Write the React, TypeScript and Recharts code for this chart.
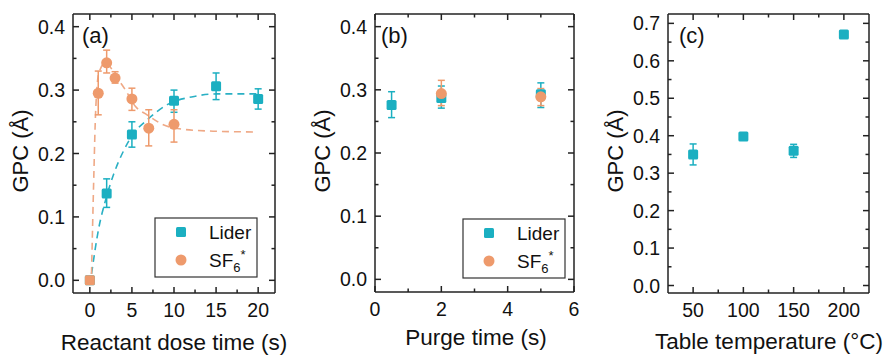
import React from 'react';
import { ComposedChart, Scatter, Line, XAxis, YAxis, ErrorBar } from 'recharts';

// panel (a): reactant dose time
const liderAX = [0, 2, 5, 10, 15, 20];
const liderAY = [0, 0.137, 0.23, 0.283, 0.306, 0.286];
const liderALo = [0, 0.115, 0.21, 0.265, 0.285, 0.27];
const liderAHi = [0, 0.16, 0.25, 0.3, 0.327, 0.302];

const sf6AX = [0, 1, 2, 3, 5, 7, 10];
const sf6AY = [0, 0.295, 0.343, 0.319, 0.286, 0.24, 0.246];
const sf6ALo = [0, 0.261, 0.327, 0.311, 0.268, 0.212, 0.218];
const sf6AHi = [0, 0.33, 0.363, 0.329, 0.303, 0.269, 0.269];

// dashed guide curves
const fitLiderX = [0.2, 1.07, 1.86, 2.85, 4.04, 5.23, 6.8, 9.2, 12.4, 15.1, 20];
const fitLiderY = [0.01, 0.083, 0.126, 0.168, 0.205, 0.232, 0.253, 0.277, 0.29, 0.294, 0.294];
const fitSf6X = [0.2, 0.48, 0.68, 1.07, 1.86, 3.25, 4.24, 5.43, 6.8, 8.8, 11.2, 15.1, 19.5];
const fitSf6Y = [0.01, 0.168, 0.263, 0.327, 0.343, 0.319, 0.3, 0.274, 0.261, 0.245, 0.238, 0.235, 0.234];

// panel (b): purge time
const liderBX = [0.5, 2, 5];
const liderBY = [0.276, 0.287, 0.293];
const liderBLo = [0.256, 0.271, 0.272];
const liderBHi = [0.297, 0.306, 0.311];
const sf6BX = [2, 5];
const sf6BY = [0.294, 0.289];
const sf6BLo = [0.275, 0.275];
const sf6BHi = [0.315, 0.302];

// panel (c): table temperature
const liderCX = [50, 100, 150, 200];
const liderCY = [0.35, 0.398, 0.36, 0.67];
const liderCLo = [0.322, 0.392, 0.342, 0.666];
const liderCHi = [0.378, 0.404, 0.377, 0.675];

const ticksA = [0, 2.5, 5, 7.5, 10, 12.5, 15, 17.5, 20];
const ticksB = [0, 1, 2, 3, 4, 5, 6];
const ticksC = [50, 75, 100, 125, 150, 175, 200];
const gpcTicks = [0, 0.05, 0.1, 0.15, 0.2, 0.25, 0.3, 0.35, 0.4];
const gpcTicksC = [0, 0.05, 0.1, 0.15, 0.2, 0.25, 0.3, 0.35, 0.4, 0.45, 0.5, 0.55, 0.6, 0.65, 0.7];

const TEAL = '#1bafc1';
const ORANGE = '#ee9a6c';
const TEAL_FIT = '#2ab0c4';
const ORANGE_FIT = '#efa986';
const FRAME = '#222';
const FONT = '"Liberation Sans", Arial, sans-serif';

const pts = (xs: number[], ys: number[], lo?: number[], hi?: number[]) =>
  xs.map((x, i) => ({
    x,
    y: ys[i],
    err: lo && hi ? [ys[i] - lo[i], hi[i] - ys[i]] : undefined,
  }));

const near = (a: number, b: number) => Math.abs(a - b) < 1e-6;

const makeTick =
  (side: 'bottom' | 'top' | 'left' | 'right', majors: number[], fmt: (v: number) => string) =>
  (props: any) => {
    const { x, y, payload } = props;
    const v = payload.value;
    const major = majors.some((m) => near(m, v));
    const len = major ? 6 : 3.5;
    const line = { stroke: FRAME, strokeWidth: 1.5 };
    if (side === 'bottom') {
      return (
        <g>
          <line x1={x} y1={y} x2={x} y2={y - len} {...line} />
          {major && (
            <text x={x} y={y + 24} textAnchor="middle" fontSize={19.5} fontFamily={FONT} fill="#111">
              {fmt(v)}
            </text>
          )}
        </g>
      );
    }
    if (side === 'top') return <line x1={x} y1={y} x2={x} y2={y + len} {...line} />;
    if (side === 'left') {
      return (
        <g>
          <line x1={x} y1={y} x2={x + len} y2={y} {...line} />
          {major && (
            <text x={x - 8} y={y + 7} textAnchor="end" fontSize={19.5} fontFamily={FONT} fill="#111">
              {fmt(v)}
            </text>
          )}
        </g>
      );
    }
    return <line x1={x} y1={y} x2={x - len} y2={y} {...line} />;
  };

const squareShape = (props: any) => (
  <rect x={props.cx - 5} y={props.cy - 5} width={10} height={10} rx={1.5} fill={TEAL} />
);
const circleShape = (props: any) =>
  // the origin point is printed as a square in the source figure
  props.payload && props.payload.x === 0 ? (
    <rect x={props.cx - 5} y={props.cy - 5} width={10} height={10} rx={1.5} fill={ORANGE} />
  ) : (
    <circle cx={props.cx} cy={props.cy} r={5.5} fill={ORANGE} />
  );

const axisLine = { stroke: FRAME, strokeWidth: 1.5 };
const f1 = (v: number) => v.toFixed(1);
const f0 = (v: number) => String(v);

type PanelProps = {
  width: number;
  leftW: number;
  rightW: number;
  xDomain: [number, number];
  xTicks: number[];
  xMajors: number[];
  yDomain: [number, number];
  yTicks: number[];
  yMajors: number[];
  bottomH: number;
  children: React.ReactNode;
};

function Panel(p: PanelProps) {
  return (
    <ComposedChart width={p.width} height={357} margin={{ top: 0, right: 0, bottom: 0, left: 0 }}>
      <XAxis
        xAxisId="b"
        type="number"
        dataKey="x"
        domain={p.xDomain}
        ticks={p.xTicks}
        allowDataOverflow
        interval={0}
        height={p.bottomH}
        tickSize={0}
        tickMargin={0}
        tickLine={false}
        axisLine={axisLine}
        tick={makeTick('bottom', p.xMajors, f0)}
      />
      <XAxis
        xAxisId="t"
        orientation="top"
        type="number"
        dataKey="x"
        domain={p.xDomain}
        ticks={p.xTicks}
        allowDataOverflow
        interval={0}
        height={14}
        tickSize={0}
        tickMargin={0}
        tickLine={false}
        axisLine={axisLine}
        tick={makeTick('top', p.xMajors, f0)}
      />
      <YAxis
        yAxisId="l"
        type="number"
        domain={p.yDomain}
        ticks={p.yTicks}
        allowDataOverflow
        interval={0}
        width={p.leftW}
        tickSize={0}
        tickMargin={0}
        tickLine={false}
        axisLine={axisLine}
        tick={makeTick('left', p.yMajors, f1)}
      />
      <YAxis
        yAxisId="r"
        orientation="right"
        type="number"
        domain={p.yDomain}
        ticks={p.yTicks}
        allowDataOverflow
        interval={0}
        width={p.rightW}
        tickSize={0}
        tickMargin={0}
        tickLine={false}
        axisLine={axisLine}
        tick={makeTick('right', p.yMajors, f1)}
      />
      {p.children}
    </ComposedChart>
  );
}

const fitLine = (xs: number[], ys: number[], color: string) => (
  <Line
    xAxisId="b"
    yAxisId="l"
    data={pts(xs, ys)}
    dataKey="y"
    type="monotone"
    stroke={color}
    strokeWidth={1.6}
    strokeDasharray="7 5"
    dot={false}
    activeDot={false}
    isAnimationActive={false}
  />
);

const series = (
  xs: number[],
  ys: number[],
  lo: number[],
  hi: number[],
  color: string,
  shape: any
) => (
  <Scatter
    xAxisId="b"
    yAxisId="l"
    data={pts(xs, ys, lo, hi)}
    dataKey="y"
    shape={shape}
    fill={color}
    isAnimationActive={false}
  >
    <ErrorBar dataKey="err" direction="y" width={3.5} stroke={color} strokeWidth={1.5} isAnimationActive={false} />
  </Scatter>
);

function LegendBox({ x, y }: { x: number; y: number }) {
  return (
    <g fontFamily={FONT} fontSize={19} fill="#111">
      <rect x={x} y={y} width={102} height={59} fill="#fff" stroke="#333" strokeWidth={1.2} />
      <rect x={x + 21} y={y + 9} width={10} height={10} rx={1.5} fill={TEAL} />
      <text x={x + 54} y={y + 21}>Lider</text>
      <circle cx={x + 26} cy={y + 42} r={5.5} fill={ORANGE} />
      <text x={x + 54} y={y + 49}>
        SF<tspan fontSize={13} dy={5}>6</tspan>
        <tspan fontSize={13} dy={-13}>*</tspan>
      </text>
    </g>
  );
}

export default function App() {
  const yTitle = (x: number, cy: number) => (
    <text
      x={x}
      y={cy}
      transform={`rotate(-90 ${x} ${cy})`}
      textAnchor="middle"
      fontSize={22}
      fontFamily={FONT}
      fill="#111"
    >
      GPC (Å)
    </text>
  );
  return (
    <div style={{ position: 'absolute', left: 0, top: 0, width: 886, height: 357, background: '#fff' }}>
      <div style={{ position: 'absolute', left: 0, top: 0 }}>
        <Panel
          width={300}
          leftW={73}
          rightW={25}
          bottomH={64}
          xDomain={[-2, 22]}
          xTicks={ticksA}
          xMajors={[0, 5, 10, 15, 20]}
          yDomain={[-0.02, 0.42]}
          yTicks={gpcTicks}
          yMajors={[0, 0.1, 0.2, 0.3, 0.4]}
        >
          {fitLine(fitLiderX, fitLiderY, TEAL_FIT)}
          {fitLine(fitSf6X, fitSf6Y, ORANGE_FIT)}
          {series(liderAX, liderAY, liderALo, liderAHi, TEAL, squareShape)}
          {series(sf6AX, sf6AY, sf6ALo, sf6AHi, ORANGE, circleShape)}
        </Panel>
      </div>
      <div style={{ position: 'absolute', left: 300, top: 0 }}>
        <Panel
          width={290}
          leftW={75}
          rightW={16}
          bottomH={65}
          xDomain={[0, 6]}
          xTicks={ticksB}
          xMajors={[0, 2, 4, 6]}
          yDomain={[-0.02, 0.42]}
          yTicks={gpcTicks}
          yMajors={[0, 0.1, 0.2, 0.3, 0.4]}
        >
          {series(liderBX, liderBY, liderBLo, liderBHi, TEAL, squareShape)}
          {series(sf6BX, sf6BY, sf6BLo, sf6BHi, ORANGE, circleShape)}
        </Panel>
      </div>
      <div style={{ position: 'absolute', left: 590, top: 0 }}>
        <Panel
          width={296}
          leftW={78}
          rightW={17}
          bottomH={64}
          xDomain={[25, 225]}
          xTicks={ticksC}
          xMajors={[50, 100, 150, 200]}
          yDomain={[-0.02, 0.725]}
          yTicks={gpcTicksC}
          yMajors={[0, 0.1, 0.2, 0.3, 0.4, 0.5, 0.6, 0.7]}
        >
          {series(liderCX, liderCY, liderCLo, liderCHi, TEAL, squareShape)}
        </Panel>
      </div>
      <svg
        width={886}
        height={357}
        style={{ position: 'absolute', left: 0, top: 0, pointerEvents: 'none' }}
      >
        <g fontFamily={FONT} fill="#111">
          <text x={82} y={43} fontSize={22}>(a)</text>
          <text x={381} y={43} fontSize={22}>(b)</text>
          <text x={679} y={43} fontSize={22}>(c)</text>
          <text x={174} y={350} fontSize={22.5} textAnchor="middle">Reactant dose time (s)</text>
          <text x={476} y={345} fontSize={22.5} textAnchor="middle">Purge time (s)</text>
          <text x={769} y={349} fontSize={22.5} textAnchor="middle">Table temperature (°C)</text>
        </g>
        {yTitle(28, 151)}
        {yTitle(330, 151)}
        {yTitle(623, 151)}
        <LegendBox x={155} y={218} />
        <LegendBox x={463} y={219} />
      </svg>
    </div>
  );
}
